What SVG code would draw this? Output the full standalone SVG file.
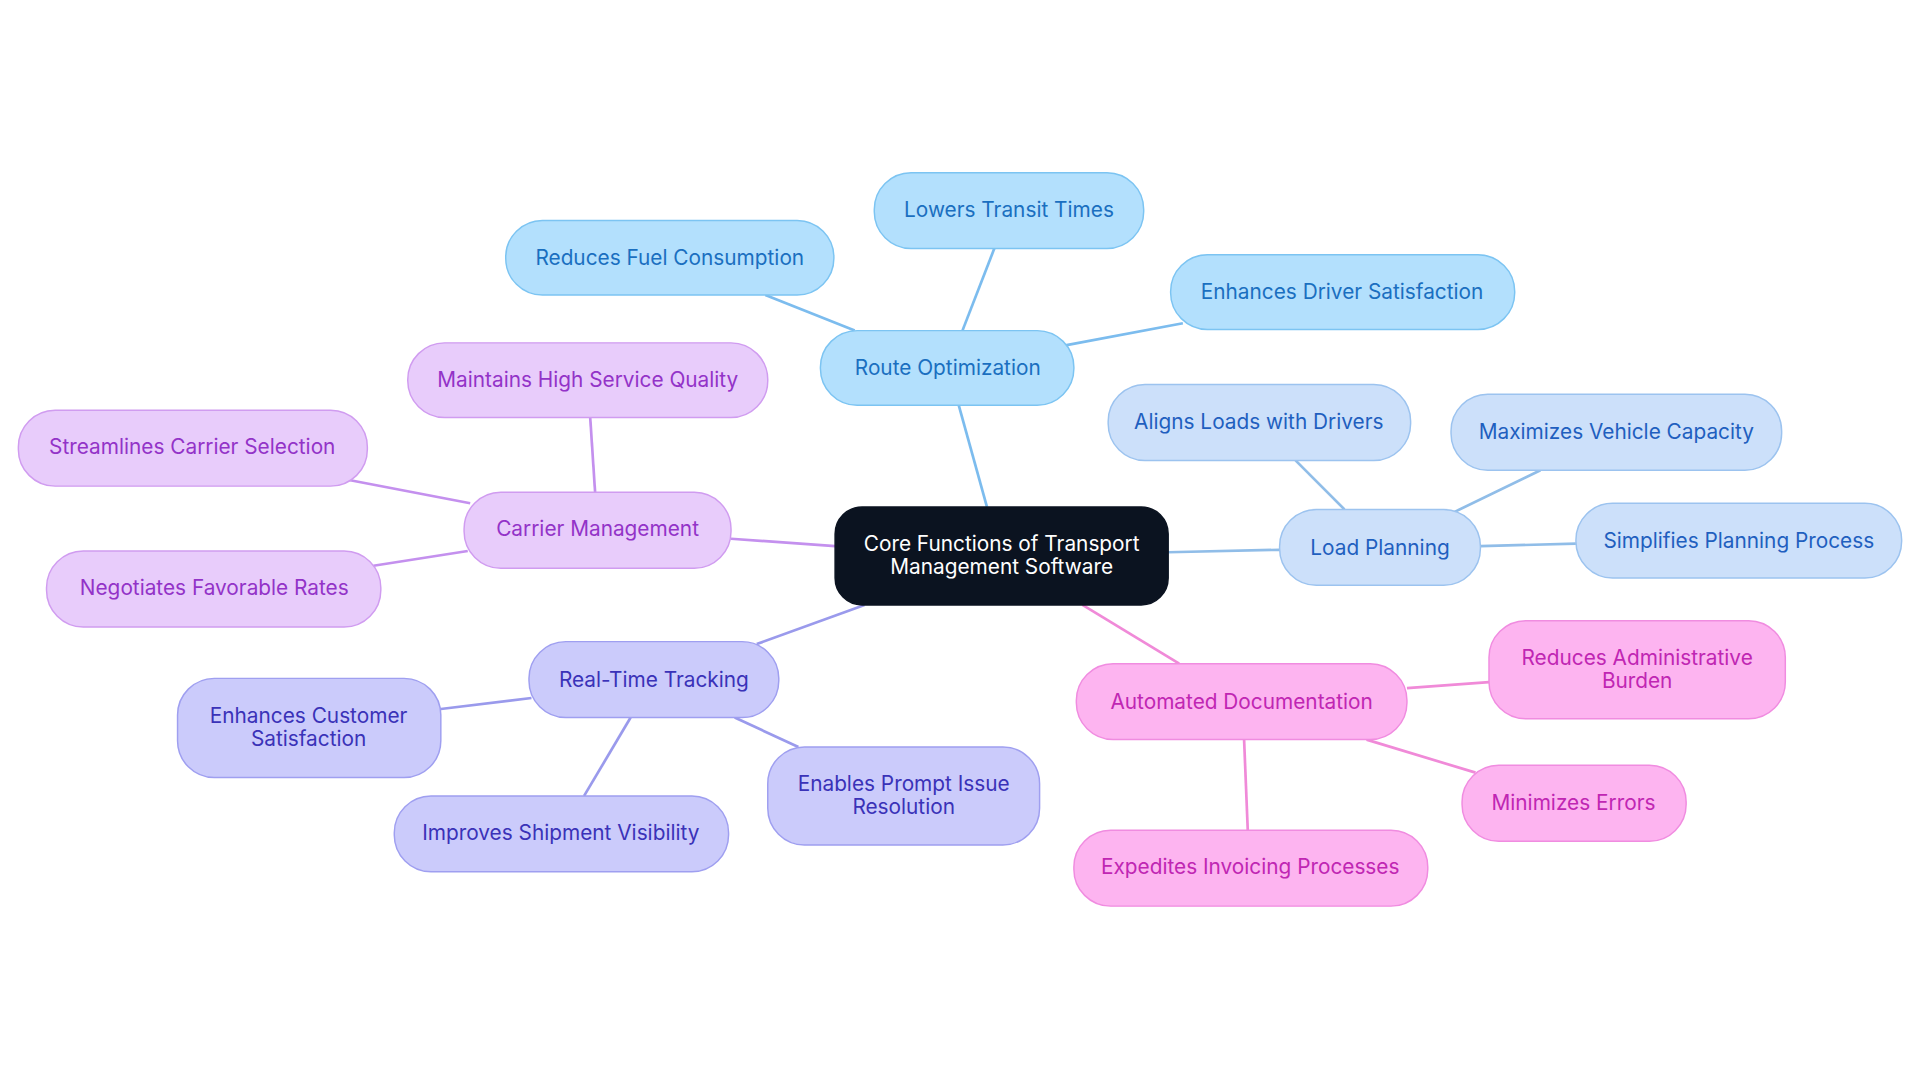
<svg xmlns="http://www.w3.org/2000/svg" width="1920" height="1083" viewBox="0 0 1920 1083">
<style>
text{font-family:Inter,"Noto Sans",sans-serif;font-size:17px;text-anchor:middle;dominant-baseline:central}
.b rect{fill:#b3e0fd;stroke:#7cc4f2}.b text{fill:#1a6fc0}
.l rect{fill:#cce0fa;stroke:#9cc3ef}.l text{fill:#1f5fbf}
.p rect{fill:#e8ccfb;stroke:#d09cf0}.p text{fill:#9333c8}
.v rect{fill:#cbcbfb;stroke:#9f9ff0}.v text{fill:#3a32b8}
.k rect{fill:#fdb4f0;stroke:#f08ce0}.k text{fill:#c026b3}
rect{stroke-width:1.2}
.e line{stroke-width:2.2}
</style>
<rect width="1920" height="1083" fill="#fff"/>
<g transform="scale(1.2245)">
<g id="connectors" class="e">
<line x1="806" y1="414" x2="783" y2="331" stroke="#7cbcee"/>
<line x1="786" y1="270" x2="812" y2="203" stroke="#7cbcee"/>
<line x1="698" y1="270" x2="625" y2="241" stroke="#7cbcee"/>
<line x1="870" y1="282" x2="966" y2="264" stroke="#7cbcee"/>
<line x1="954" y1="451" x2="1045" y2="449" stroke="#90bde8"/>
<line x1="1098" y1="416" x2="1058" y2="376" stroke="#90bde8"/>
<line x1="1188" y1="418" x2="1258" y2="384" stroke="#90bde8"/>
<line x1="1209" y1="446" x2="1287" y2="444" stroke="#90bde8"/>
<line x1="682" y1="446" x2="597" y2="440" stroke="#c490ee"/>
<line x1="486" y1="402" x2="482" y2="341" stroke="#c490ee"/>
<line x1="384" y1="411" x2="285" y2="392" stroke="#c490ee"/>
<line x1="382" y1="450" x2="305" y2="462" stroke="#c490ee"/>
<line x1="706" y1="494" x2="618" y2="526" stroke="#9a9aec"/>
<line x1="434" y1="570" x2="360" y2="579" stroke="#9a9aec"/>
<line x1="515" y1="586" x2="477" y2="650" stroke="#9a9aec"/>
<line x1="600" y1="586" x2="652" y2="610" stroke="#9a9aec"/>
<line x1="884" y1="494" x2="963" y2="542" stroke="#f08ad8"/>
<line x1="1149" y1="562" x2="1216" y2="557" stroke="#f08ad8"/>
<line x1="1116" y1="604" x2="1205" y2="631" stroke="#f08ad8"/>
<line x1="1016" y1="604" x2="1019" y2="678" stroke="#f08ad8"/>
</g>
<g id="center"><rect x="682" y="414" width="272" height="80" rx="22" fill="#0b1320" stroke="#0b1320"/><text x="818" y="444" fill="#fff">Core Functions of Transport</text><text x="818" y="463" fill="#fff">Management Software</text></g>
<g id="route" class="b"><rect x="670" y="270" width="207" height="61" rx="30"/><text x="774" y="300">Route Optimization</text></g>
<g id="lowers" class="b"><rect x="714" y="141" width="220" height="62" rx="30"/><text x="824" y="171">Lowers Transit Times</text></g>
<g id="fuel" class="b"><rect x="413" y="180" width="268" height="61" rx="30"/><text x="547" y="210">Reduces Fuel Consumption</text></g>
<g id="driver" class="b"><rect x="956" y="208" width="281" height="61" rx="30"/><text x="1096" y="238">Enhances Driver Satisfaction</text></g>
<g id="load" class="l"><rect x="1045" y="416" width="164" height="62" rx="30"/><text x="1127" y="447">Load Planning</text></g>
<g id="aligns" class="l"><rect x="905" y="314" width="247" height="62" rx="30"/><text x="1028" y="344">Aligns Loads with Drivers</text></g>
<g id="maximizes" class="l"><rect x="1185" y="322" width="270" height="62" rx="30"/><text x="1320" y="352">Maximizes Vehicle Capacity</text></g>
<g id="simplifies" class="l"><rect x="1287" y="411" width="266" height="61" rx="30"/><text x="1420" y="441">Simplifies Planning Process</text></g>
<g id="carrier" class="p"><rect x="379" y="402" width="218" height="62" rx="30"/><text x="488" y="432">Carrier Management</text></g>
<g id="quality" class="p"><rect x="333" y="280" width="294" height="61" rx="30"/><text x="480" y="310">Maintains High Service Quality</text></g>
<g id="streamlines" class="p"><rect x="15" y="335" width="285" height="62" rx="30"/><text x="157" y="365">Streamlines Carrier Selection</text></g>
<g id="negotiates" class="p"><rect x="38" y="450" width="273" height="62" rx="30"/><text x="175" y="480">Negotiates Favorable Rates</text></g>
<g id="tracking" class="v"><rect x="432" y="524" width="204" height="62" rx="30"/><text x="534" y="555">Real-Time Tracking</text></g>
<g id="customer" class="v"><rect x="145" y="554" width="215" height="81" rx="30"/><text x="252" y="584">Enhances Customer</text><text x="252" y="603">Satisfaction</text></g>
<g id="visibility" class="v"><rect x="322" y="650" width="273" height="62" rx="30"/><text x="458" y="680">Improves Shipment Visibility</text></g>
<g id="prompt" class="v"><rect x="627" y="610" width="222" height="80" rx="30"/><text x="738" y="640">Enables Prompt Issue</text><text x="738" y="659">Resolution</text></g>
<g id="docs" class="k"><rect x="879" y="542" width="270" height="62" rx="30"/><text x="1014" y="573">Automated Documentation</text></g>
<g id="admin" class="k"><rect x="1216" y="507" width="242" height="80" rx="30"/><text x="1337" y="537">Reduces Administrative</text><text x="1337" y="556">Burden</text></g>
<g id="errors" class="k"><rect x="1194" y="625" width="183" height="62" rx="30"/><text x="1285" y="655">Minimizes Errors</text></g>
<g id="invoicing" class="k"><rect x="877" y="678" width="289" height="62" rx="30"/><text x="1021" y="708">Expedites Invoicing Processes</text></g>
</g>
</svg>
